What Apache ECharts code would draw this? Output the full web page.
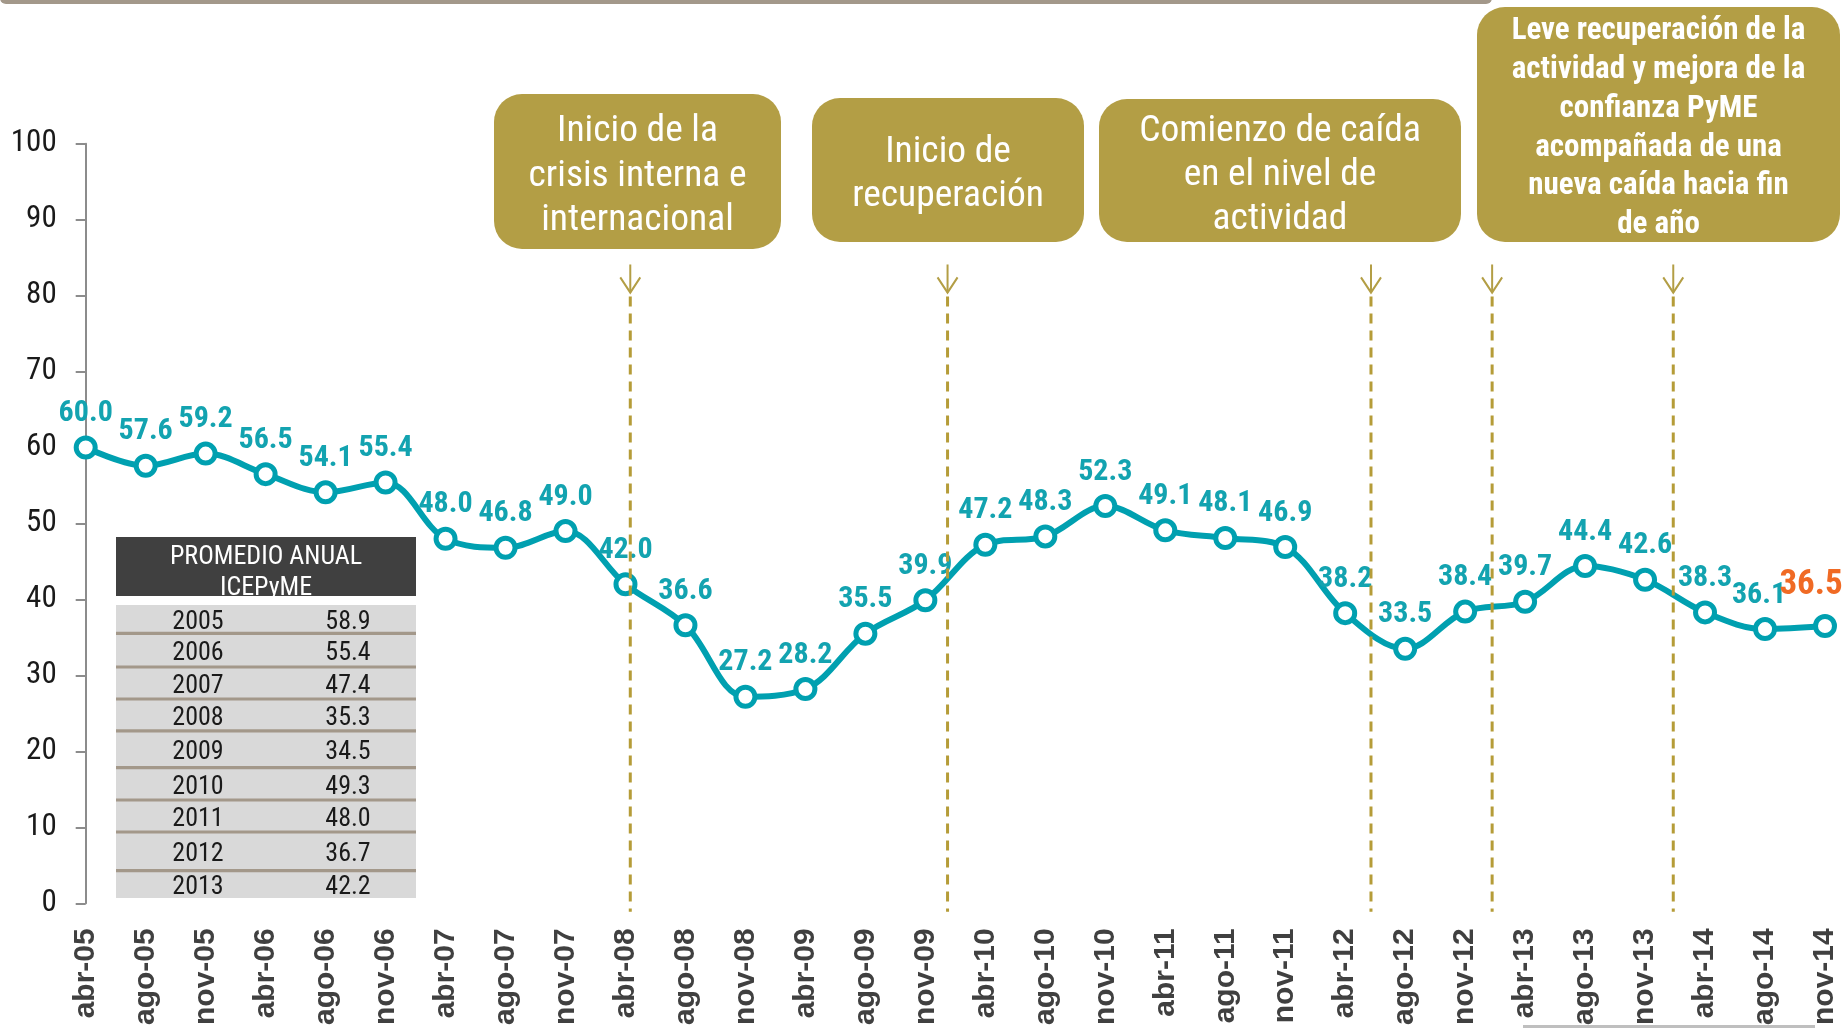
<!DOCTYPE html>
<html><head><meta charset="utf-8">
<script src="https://cdn.jsdelivr.net/npm/echarts@6.0.0/dist/echarts.min.js"></script>
<style>html,body{margin:0;padding:0;background:#fff;overflow:hidden}#c{width:1843px;height:1028px}</style>
</head><body><div id="c"></div>
<script>
const categories = ['abr-05','ago-05','nov-05','abr-06','ago-06','nov-06','abr-07','ago-07','nov-07','abr-08','ago-08','nov-08','abr-09','ago-09','nov-09','abr-10','ago-10','nov-10','abr-11','ago-11','nov-11','abr-12','ago-12','nov-12','abr-13','ago-13','nov-13','abr-14','ago-14','nov-14'];
const values = [60.0,57.6,59.2,56.5,54.1,55.4,48.0,46.8,49.0,42.0,36.6,27.2,28.2,35.5,39.9,47.2,48.3,52.3,49.1,48.1,46.9,38.2,33.5,38.4,39.7,44.4,42.6,38.3,36.1,36.5];
// event markers, expressed as (fractional) category index
const eventPositions = [9.08, 14.37, 21.43, 23.45, 26.47];
const boxTexts = [
  'Inicio de la\ncrisis interna e\ninternacional',
  'Inicio de\nrecuperación',
  'Comienzo de caída\nen el nivel de\nactividad',
  'Leve recuperación de la\nactividad y mejora de la\nconfianza PyME\nacompañada de una\nnueva caída hacia fin\nde año'
];
const tableTitle = ['PROMEDIO ANUAL', 'ICEPyME'];
const tableYears = ['2005','2006','2007','2008','2009','2010','2011','2012','2013'];
const tableValues = ['58.9','55.4','47.4','35.3','34.5','49.3','48.0','36.7','42.2'];

const NARROW = "'Liberation Sans Narrow','Arial Narrow','Roboto Condensed','DejaVu Sans Condensed',sans-serif";
const SANS = "'Liberation Sans',Arial,sans-serif";
const TEAL = '#00A0B0';
const TEAL_TXT = '#13A3B0';
const GOLD = '#B39E45';
const DASH = '#B59C38';
const ORANGE = '#F06A24';

const chart = echarts.init(document.getElementById('c'), null, {renderer: 'canvas'});

const lastIdx = values.length - 1;
const seriesData = values.map((v, i) => {
  if (i === lastIdx) return {value: v, label: {color: ORANGE, fontSize: 35, offset: [-14, -4]}};
  if (i === lastIdx - 1) return {value: v, label: {offset: [-6, 0]}};
  return v;
});

// annotation boxes (layout)
const boxes = [
  {x: 494, y: 94, w: 287, h: 155, fs: 37.5, lh: 44.5, fw: 'normal', dy: 5},
  {x: 812, y: 98, w: 272, h: 144, fs: 37.5, lh: 44, fw: 'normal', dy: 5},
  {x: 1099, y: 99, w: 362, h: 143, fs: 37.5, lh: 44, fw: 'normal', dy: 5},
  {x: 1477, y: 7, w: 363, h: 235, fs: 31, lh: 38.8, fw: 'bold', dy: 4}
];
const graphic = [];
graphic.push({type: 'rect', shape: {x: 0, y: -8, width: 1492, height: 12, r: 8}, style: {fill: '#A3988A'}, z: 10});
graphic.push({type: 'rect', shape: {x: 1523, y: 1025, width: 292, height: 3}, style: {fill: '#BFBFBF'}, z: 10});
boxes.forEach((b, i) => {
  graphic.push({type: 'rect', shape: {x: b.x, y: b.y, width: b.w, height: b.h, r: 28}, style: {fill: GOLD}, z: 10});
  graphic.push({type: 'text', x: b.x + b.w / 2, y: b.y + b.h / 2 + b.dy, z: 11,
    style: {text: boxTexts[i], fill: '#fff', fontFamily: NARROW, fontSize: b.fs, fontWeight: b.fw,
      lineHeight: b.lh, textAlign: 'center', textVerticalAlign: 'middle'}});
});
// table (layout)
const tX = 116, tW = 300;
graphic.push({type: 'rect', shape: {x: tX, y: 537, width: tW, height: 59}, style: {fill: '#404040'}, z: 10});
tableTitle.forEach((t, i) => {
  graphic.push({type: 'text', x: tX + tW / 2, y: 557 + i * 31, z: 11,
    style: {text: t, fill: '#fff', fontFamily: NARROW, fontSize: 26, textAlign: 'center', textVerticalAlign: 'middle'}});
});
graphic.push({type: 'rect', shape: {x: tX - 2, y: 596, width: tW + 4, height: 9}, style: {fill: '#fff'}, z: 12});
const rowEdges = [605, 633.3, 667, 699, 730.8, 767.7, 800, 832, 870.7, 898];
graphic.push({type: 'rect', shape: {x: tX, y: rowEdges[0], width: tW, height: rowEdges[rowEdges.length - 1] - rowEdges[0]}, style: {fill: '#D9D9D9'}, z: 10});
tableYears.forEach((y, i) => {
  const cy = (rowEdges[i] + rowEdges[i + 1]) / 2;
  if (i > 0) graphic.push({type: 'rect', shape: {x: tX, y: rowEdges[i] - 1.6, width: tW, height: 3.2}, style: {fill: '#A3988A'}, z: 11});
  graphic.push({type: 'text', x: tX + 82, y: cy + 3.5, z: 12, style: {text: y, fill: '#1a1a1a', fontFamily: NARROW, fontSize: 26, textAlign: 'center', textVerticalAlign: 'middle'}});
  graphic.push({type: 'text', x: tX + 232, y: cy + 3.5, z: 12, style: {text: tableValues[i], fill: '#1a1a1a', fontFamily: NARROW, fontSize: 26, textAlign: 'center', textVerticalAlign: 'middle'}});
});

function renderEvent(params, api) {
  const xv = api.value(0);
  const stemTop = api.coord([xv, 84.1]);
  const tip = api.coord([xv, 80.4]);
  const headY = api.coord([xv, 82.4])[1];
  const dashTop = api.coord([xv, 79.9]);
  const dashBot = api.coord([xv, -1.1]);
  const x = tip[0];
  return {type: 'group', children: [
    {type: 'line', shape: {x1: x, y1: stemTop[1], x2: x, y2: tip[1]}, style: {stroke: GOLD, lineWidth: 2}},
    {type: 'polyline', shape: {points: [[x - 10, headY], [x, tip[1]], [x + 10, headY]]}, style: {stroke: GOLD, lineWidth: 2, fill: null}},
    {type: 'line', shape: {x1: x, y1: dashTop[1], x2: x, y2: dashBot[1]}, style: {stroke: DASH, lineWidth: 3, lineDash: [10, 7]}}
  ]};
}

const option = {
  animation: false,
  backgroundColor: '#fff',
  grid: {left: 85.7, right: 18, top: 143.7, bottom: 121.3, containLabel: false},
  xAxis: [
    {type: 'category', data: categories, boundaryGap: false,
      axisLine: {show: false}, axisTick: {show: false},
      axisLabel: {rotate: 90, margin: 25, interval: 0, fontFamily: SANS, fontSize: 30, fontWeight: 'bold', color: '#404040'}},
    {type: 'value', min: 0, max: categories.length - 1, show: false}
  ],
  yAxis: {type: 'value', min: 0, max: 100, interval: 10,
    axisLine: {show: true, lineStyle: {color: '#8c8c8c', width: 2}},
    axisTick: {show: true, length: 10, lineStyle: {color: '#8c8c8c', width: 2}},
    splitLine: {show: false},
    axisLabel: {margin: 29, fontFamily: NARROW, fontSize: 31, color: '#1a1a1a'}},
  series: [
    {type: 'custom', xAxisIndex: 1, clip: false, silent: true, z: 4,
      data: eventPositions.map(x => [x, 0]), renderItem: renderEvent},
    {type: 'line', data: seriesData, smooth: 0.35, symbol: 'circle', symbolSize: 19, showAllSymbol: true,
      lineStyle: {color: TEAL, width: 6}, itemStyle: {color: '#fff', borderColor: TEAL, borderWidth: 5},
      label: {show: true, position: 'top', distance: 7, formatter: p => Number(p.value).toFixed(1),
        color: TEAL_TXT, fontFamily: NARROW, fontSize: 30, fontWeight: 'bold'},
      z: 3}
  ],
  graphic: graphic
};
chart.setOption(option);
</script></body></html>
